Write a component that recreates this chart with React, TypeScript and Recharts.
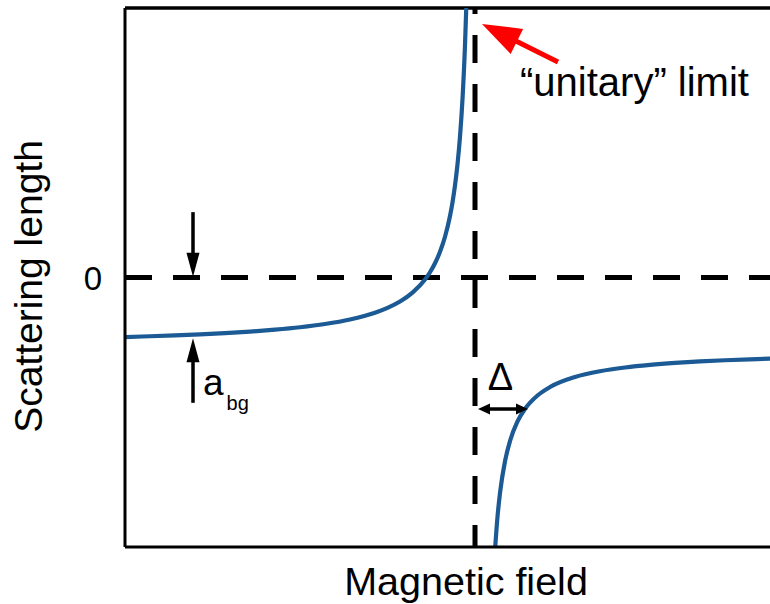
import { LineChart, Line, XAxis, YAxis, ReferenceLine, ReferenceDot, Label } from "recharts";

// Scattering length across a Feshbach resonance (arbitrary units)
const leftField = [0, 0.5, 1, 1.5, 2, 2.5, 3, 3.5, 4, 4.5, 5, 5.25, 5.5, 5.75, 6, 6.1, 6.2, 6.3, 6.4, 6.5, 6.55, 6.6, 6.65, 6.7, 6.75, 6.8, 6.825];
const leftLength = [-0.884, -0.872, -0.859, -0.844, -0.825, -0.803, -0.774, -0.738, -0.69, -0.623, -0.523, -0.451, -0.357, -0.225, -0.03, 0.078, 0.211, 0.381, 0.605, 0.913, 1.116, 1.365, 1.681, 2.091, 2.649, 3.448, 4.0];

const rightField = [7.404, 7.45, 7.5, 7.6, 7.7, 7.85, 8, 8.25, 8.5, 9, 9.5, 10, 10.5, 11, 11.5, 12, 12.5, 13];
const rightLength = [-4.0, -3.553, -3.199, -2.727, -2.427, -2.137, -1.95, -1.751, -1.626, -1.477, -1.391, -1.336, -1.297, -1.268, -1.246, -1.228, -1.214, -1.202];

const yTicks = [0];

const RESONANCE = 7;
const FIELD_MAX = 13;
const LEN_MIN = -4;
const LEN_MAX = 4;

// gap at the pole so the two branches are not joined
const curveData = [
  ...leftField.map((field, i) => ({ field, length: leftLength[i] })),
  { field: 7.1, length: null },
  ...rightField.map((field, i) => ({ field, length: rightLength[i] })),
];

const FONT = '"Liberation Sans", Arial, Helvetica, sans-serif';
const CURVE = "#1b5a94";

type Seg = { x1: number; y1: number; x2: number; y2: number };

// arrow from (x1,y1) to (x2,y2), optional head on both ends
const arrow = (color: string, width: number, headLen: number, headWidth: number, both = false) =>
  (p: Seg) => {
    const dx = p.x2 - p.x1;
    const dy = p.y2 - p.y1;
    const len = Math.hypot(dx, dy) || 1;
    const ux = dx / len;
    const uy = dy / len;
    const px = -uy;
    const py = ux;
    const head = (tx: number, ty: number, sx: number, sy: number) => {
      const bx = tx - sx * headLen;
      const by = ty - sy * headLen;
      return `${tx},${ty} ${bx + px * headWidth / 2},${by + py * headWidth / 2} ${bx - px * headWidth / 2},${by - py * headWidth / 2}`;
    };
    const sx1 = both ? p.x1 + ux * headLen * 0.8 : p.x1;
    const sy1 = both ? p.y1 + uy * headLen * 0.8 : p.y1;
    return (
      <g>
        <line x1={sx1} y1={sy1} x2={p.x2 - ux * headLen * 0.8} y2={p.y2 - uy * headLen * 0.8} stroke={color} strokeWidth={width} />
        <polygon points={head(p.x2, p.y2, ux, uy)} fill={color} />
        {both && <polygon points={head(p.x1, p.y1, -ux, -uy)} fill={color} />}
      </g>
    );
  };

const dashed = (dash: string, offset: number) => (p: Seg) => (
  <line x1={p.x1} y1={p.y1} x2={p.x2} y2={p.y2} stroke="#000" strokeWidth={5} strokeDasharray={dash} strokeDashoffset={offset} />
);

const renderZeroTick = (p: any) => (
  <text x={p.x} y={p.y + 12} textAnchor="end" fontSize={33} fontFamily={FONT} fill="#000">
    {p.payload.value}
  </text>
);

export default function App() {
  return (
    <div style={{ position: "absolute", left: 0, top: 0, width: 770, height: 604, overflow: "hidden", background: "#fff", fontFamily: FONT }}>
      <LineChart width={775} height={604} data={curveData} margin={{ top: 8, right: 0, bottom: 0, left: 0 }}>
        <XAxis
          type="number"
          dataKey="field"
          domain={[0, FIELD_MAX]}
          ticks={[]}
          tick={false}
          tickLine={false}
          axisLine={{ stroke: "#000", strokeWidth: 3 }}
          height={57}
          allowDataOverflow
        >
          <Label
            content={(p: any) => (
              <text x={p.viewBox.x + p.viewBox.width / 2 + 16} y={p.viewBox.y + 48} textAnchor="middle" fontSize={39.5} fontFamily={FONT} fill="#000">
                Magnetic field
              </text>
            )}
          />
        </XAxis>
        <YAxis
          type="number"
          domain={[LEN_MIN, LEN_MAX]}
          ticks={yTicks}
          tickSize={0}
          tickMargin={23}
          tickLine={false}
          axisLine={{ stroke: "#000", strokeWidth: 3 }}
          tick={renderZeroTick}
          width={125}
          allowDataOverflow
        >
          <Label
            content={(p: any) => {
              const cx = 42;
              const cy = p.viewBox.y + p.viewBox.height / 2 + 9;
              return (
                <text x={cx} y={cy} transform={`rotate(-90, ${cx}, ${cy})`} textAnchor="middle" fontSize={39} fontFamily={FONT} fill="#000">
                  Scattering length
                </text>
              );
            }}
          />
        </YAxis>

        {/* frame top edge */}
        <ReferenceLine y={LEN_MAX} stroke="#000" strokeWidth={3.5} />

        {/* zero line and resonance position */}
        <ReferenceLine segment={[{ x: 0, y: 0 }, { x: FIELD_MAX, y: 0 }]} shape={dashed("27 21", 0)} />
        <ReferenceLine segment={[{ x: RESONANCE, y: LEN_MAX }, { x: RESONANCE, y: LEN_MIN }]} shape={dashed("28 21", 22)} />

        <Line
          type="monotone"
          dataKey="length"
          stroke={CURVE}
          strokeWidth={4.2}
          dot={false}
          activeDot={false}
          connectNulls={false}
          isAnimationActive={false}
        />

        {/* a_bg markers */}
        <ReferenceLine segment={[{ x: 1.36, y: 0.97 }, { x: 1.36, y: 0.01 }]} shape={arrow("#000", 3.5, 24, 13)} />
        <ReferenceLine segment={[{ x: 1.36, y: -1.86 }, { x: 1.36, y: -0.9 }]} shape={arrow("#000", 3.5, 24, 13)} />
        <ReferenceDot
          x={1.56}
          y={-1.744}
          r={0}
          shape={(p: any) => (
            <text x={p.cx} y={p.cy} fontSize={37} fontFamily={FONT} fill="#000">
              a
              <tspan fontSize={20} dx={3} dy={15}>bg</tspan>
            </text>
          )}
        />

        {/* width of the resonance */}
        <ReferenceLine segment={[{ x: 7.06, y: -1.952 }, { x: 8.06, y: -1.952 }]} shape={arrow("#000", 3.5, 12, 11, true)} />
        <ReferenceDot
          x={7.51}
          y={-1.67}
          r={0}
          shape={(p: any) => (
            <text x={p.cx} y={p.cy} textAnchor="middle" fontSize={38} fontFamily={FONT} fill="#000">
              Δ
            </text>
          )}
        />

        {/* unitary limit callout */}
        <ReferenceLine segment={[{ x: 8.66, y: 3.199 }, { x: 7.14, y: 3.763 }]} shape={arrow("#ff0000", 5, 39, 28)} />
        <ReferenceDot
          x={7.9}
          y={2.694}
          r={0}
          shape={(p: any) => (
            <text x={p.cx} y={p.cy} fontSize={40} fontFamily={FONT} fill="#000">
              {"\u201Cunitary\u201D limit"}
            </text>
          )}
        />
      </LineChart>
    </div>
  );
}
